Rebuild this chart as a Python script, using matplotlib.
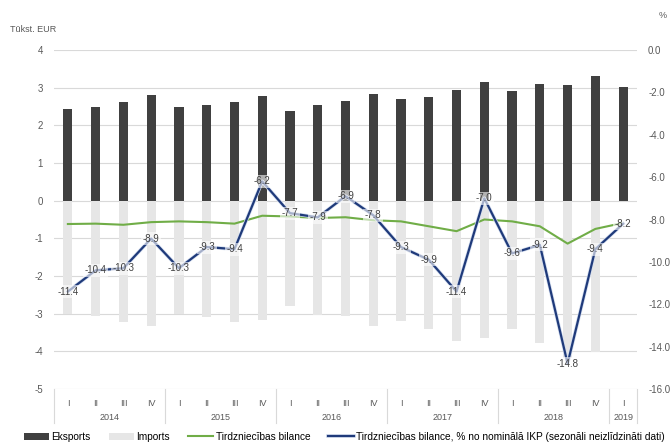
import numpy as np
import matplotlib.pyplot as plt
import matplotlib.patheffects as pe
from matplotlib.transforms import blended_transform_factory

plt.rcParams['font.family'] = ['Liberation Sans', 'DejaVu Sans']
plt.rcParams['axes.unicode_minus'] = False

# quarters 2014 Q1 .. 2019 Q1
quarters = ['I', 'II', 'III', 'IV'] * 5 + ['I']
years = ['2014', '2015', '2016', '2017', '2018', '2019']
year_len = [4, 4, 4, 4, 4, 1]

eksports = [2.43, 2.48, 2.61, 2.80, 2.48, 2.54, 2.63, 2.78, 2.38, 2.55, 2.65,
            2.82, 2.69, 2.76, 2.93, 3.16, 2.90, 3.09, 3.07, 3.30, 3.01]
imports = [-3.00, -3.07, -3.21, -3.34, -3.00, -3.08, -3.21, -3.16, -2.80, -3.04, -3.07,
           -3.33, -3.20, -3.41, -3.73, -3.64, -3.42, -3.77, -4.18, -4.03, np.nan]
bilance = [-0.62, -0.61, -0.64, -0.57, -0.55, -0.57, -0.61, -0.40, -0.42, -0.46, -0.44,
           -0.52, -0.55, -0.68, -0.81, -0.50, -0.55, -0.68, -1.14, -0.75, -0.59]
pct_ikp = [-11.4, -10.4, -10.3, -8.9, -10.3, -9.3, -9.4, -6.2, -7.7, -7.9, -6.9,
           -7.8, -9.3, -9.9, -11.4, -7.0, -9.6, -9.2, -14.8, -9.4, -8.2]

grey_txt = '#595959'
x = np.arange(len(quarters))

fig = plt.figure(figsize=(6.7, 4.45), dpi=100)
ax = fig.add_axes([54/670, 1-389/445, (637-54)/670, (389-50)/445])

b1 = ax.bar(x, eksports, width=0.33, color='#404040', label='Eksports', zorder=2)
b2 = ax.bar(x, imports, width=0.33, color='#e6e6e6', label='Imports', zorder=2)
l1, = ax.plot(x, bilance, color='#70ad47', lw=1.5, label='Tirdzniecības bilance', zorder=3)

ax.set_xlim(-0.5, len(x) - 0.5)
ax.set_ylim(-5, 4)
ax.set_yticks(range(-5, 5))
ax.grid(axis='y', color='#d9d9d9', lw=0.8, zorder=0)
ax.set_axisbelow(True)
for s in ax.spines.values():
    s.set_visible(False)
ax.tick_params(axis='y', length=0, labelsize=7, labelcolor=grey_txt, pad=8)
ax.set_xticks(x)
ax.set_xticklabels(quarters, fontsize=6.5, color=grey_txt)
ax.tick_params(axis='x', length=0, pad=7)

# year row + separators
tr = blended_transform_factory(ax.transData, ax.transAxes)
start = 0
bounds = [-0.5]
for yr, n in zip(years, year_len):
    ax.text(start + (n - 1) / 2, -28/339, yr, transform=tr, ha='center', va='center',
            fontsize=6.5, color=grey_txt)
    start += n
    bounds.append(start - 0.5)
for b in bounds:
    ax.plot([b, b], [0, -34/339], transform=tr, color='#d9d9d9', lw=0.8, clip_on=False)

# right axis
ax2 = ax.twinx()
ax2.set_ylim(-16, 0)
ax2.set_yticks(np.arange(-16, 1, 2))
ax2.set_yticklabels(['%.1f' % v for v in np.arange(-16, 1, 2)])
for s in ax2.spines.values():
    s.set_visible(False)
ax2.tick_params(axis='y', length=0, labelsize=7, labelcolor=grey_txt, pad=8)
l2, = ax2.plot(x, pct_ikp, color='#1f3a7a', lw=1.6, zorder=3,
               label='Tirdzniecības bilance, % no nominālā IKP (sezonāli neizlīdzināti dati)',
               path_effects=[pe.Stroke(linewidth=2.6, foreground='#d3ddef'), pe.Normal()])
for xi, v in zip(x, pct_ikp):
    ax2.text(xi, v, '%.1f' % v, ha='center', va='center', fontsize=7, color='#404040',
             zorder=5, bbox=dict(boxstyle='square,pad=0.15', fc='white', ec='none', alpha=0.6))

fig.text(10/670, 1-30/445, 'Tūkst. EUR', fontsize=6.5, color=grey_txt, va='center')
fig.text(659/670, 1-15/445, '%', fontsize=6.5, color=grey_txt, va='center')

handles = [b1, b2, l1, l2]
fig.legend(handles, [h.get_label() for h in handles], loc='center left',
           bbox_to_anchor=(24/670, 1-437/445), ncol=4, frameon=False, fontsize=7.3,
           handlelength=2.5, handletextpad=0.2, columnspacing=1.8,
           borderaxespad=0, borderpad=0)

fig.savefig('out.png', dpi=100)
